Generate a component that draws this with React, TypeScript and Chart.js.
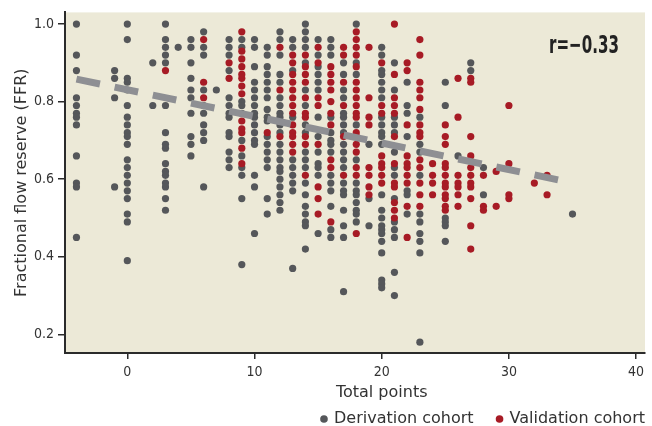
import { useEffect, useRef } from "react";
import { Chart, registerables } from "chart.js";

Chart.register(...registerables);

// ---------- data ----------
const xTicks = [0, 10, 20, 30, 40];
const yTicks = [0.2, 0.4, 0.6, 0.8, 1.0];

// Derivation cohort: [total points, FFR values in that column]
const derivationCols: [number, number[]][] = [
  [-4, [1.0, 0.92, 0.88, 0.81, 0.79, 0.77, 0.76, 0.74, 0.66, 0.59, 0.58, 0.45]],
  [-1, [0.88, 0.86, 0.81, 0.58]],
  [0, [1.0, 0.96, 0.86, 0.85, 0.83, 0.79, 0.76, 0.74, 0.72, 0.71, 0.69, 0.65, 0.63, 0.61, 0.59, 0.57, 0.55, 0.51, 0.49, 0.39]],
  [2, [0.9, 0.79]],
  [3, [1.0, 0.96, 0.94, 0.92, 0.9, 0.79, 0.72, 0.69, 0.68, 0.64, 0.62, 0.61, 0.59, 0.58, 0.55, 0.52]],
  [4, [0.94]],
  [5, [0.96, 0.94, 0.9, 0.86, 0.83, 0.81, 0.77, 0.71, 0.69, 0.66]],
  [6, [0.98, 0.94, 0.92, 0.83, 0.79, 0.77, 0.74, 0.72, 0.7, 0.58]],
  [7, [0.83]],
  [8, [0.96, 0.94, 0.92, 0.88, 0.81, 0.79, 0.77, 0.76, 0.72, 0.71, 0.67, 0.65, 0.63]],
  [9, [0.96, 0.94, 0.8, 0.79, 0.77, 0.7, 0.66, 0.63, 0.61, 0.55, 0.38]],
  [10, [0.96, 0.94, 0.89, 0.85, 0.83, 0.81, 0.79, 0.77, 0.76, 0.74, 0.72, 0.7, 0.69, 0.61, 0.58, 0.46]],
  [11, [0.94, 0.92, 0.89, 0.87, 0.85, 0.83, 0.81, 0.78, 0.76, 0.75, 0.71, 0.69, 0.67, 0.65, 0.63, 0.55, 0.51]],
  [12, [0.98, 0.96, 0.92, 0.87, 0.85, 0.81, 0.79, 0.77, 0.76, 0.74, 0.72, 0.69, 0.67, 0.65, 0.63, 0.62, 0.6, 0.58, 0.56, 0.54, 0.52]],
  [13, [0.96, 0.94, 0.88, 0.76, 0.65, 0.63, 0.61, 0.59, 0.57, 0.37]],
  [14, [1.0, 0.98, 0.96, 0.94, 0.9, 0.83, 0.79, 0.74, 0.72, 0.67, 0.65, 0.63, 0.59, 0.56, 0.53, 0.51, 0.49, 0.48, 0.42]],
  [15, [0.96, 0.92, 0.89, 0.87, 0.85, 0.83, 0.76, 0.71, 0.67, 0.64, 0.63, 0.61, 0.46]],
  [16, [0.96, 0.94, 0.92, 0.76, 0.72, 0.7, 0.69, 0.67, 0.61, 0.59, 0.57, 0.53, 0.47, 0.45]],
  [17, [0.9, 0.87, 0.83, 0.81, 0.77, 0.76, 0.74, 0.72, 0.69, 0.67, 0.65, 0.63, 0.59, 0.57, 0.56, 0.52, 0.48, 0.45, 0.31]],
  [18, [1.0, 0.9, 0.87, 0.74, 0.65, 0.59, 0.57, 0.56, 0.54, 0.52, 0.51, 0.49]],
  [19, [0.69, 0.55, 0.48]],
  [20, [0.94, 0.92, 0.88, 0.87, 0.85, 0.83, 0.81, 0.76, 0.74, 0.72, 0.71, 0.69, 0.56, 0.52, 0.5, 0.48, 0.47, 0.46, 0.44, 0.41, 0.34, 0.33, 0.32]],
  [21, [0.9, 0.83, 0.76, 0.74, 0.72, 0.67, 0.63, 0.61, 0.55, 0.49, 0.47, 0.45, 0.36, 0.3]],
  [22, [0.85, 0.79, 0.77, 0.71, 0.57, 0.56, 0.51]],
  [23, [0.76, 0.69, 0.67, 0.61, 0.51, 0.49, 0.46, 0.44, 0.41, 0.18]],
  [25, [0.85, 0.79, 0.5, 0.49, 0.48, 0.44]],
  [26, [0.66]],
  [27, [0.9, 0.88]],
  [28, [0.63, 0.56]],
  [35, [0.51]],
];

// Validation cohort: [total points, FFR values in that column]
const validationCols: [number, number[]][] = [
  [3, [0.88]],
  [6, [0.96, 0.85, 0.81]],
  [8, [0.9, 0.86]],
  [9, [0.98, 0.93, 0.91, 0.89, 0.87, 0.86, 0.84, 0.82, 0.75, 0.73, 0.72, 0.68, 0.64]],
  [11, [0.72]],
  [12, [0.94, 0.83, 0.71]],
  [13, [0.92, 0.9, 0.87, 0.85, 0.83, 0.81, 0.79, 0.77, 0.74, 0.72, 0.71, 0.69, 0.67]],
  [14, [0.92, 0.89, 0.87, 0.85, 0.81, 0.77, 0.76, 0.71, 0.69, 0.61]],
  [15, [0.94, 0.9, 0.81, 0.79, 0.69, 0.58, 0.55, 0.51]],
  [16, [0.89, 0.87, 0.85, 0.83, 0.8, 0.77, 0.74, 0.65, 0.63, 0.49]],
  [17, [0.94, 0.92, 0.85, 0.79, 0.71, 0.61]],
  [18, [0.98, 0.96, 0.94, 0.92, 0.89, 0.85, 0.83, 0.81, 0.79, 0.77, 0.76, 0.72, 0.71, 0.69, 0.67, 0.63, 0.61, 0.46]],
  [19, [0.94, 0.81, 0.76, 0.74, 0.63, 0.61, 0.58, 0.56]],
  [20, [0.9, 0.79, 0.77, 0.66, 0.64, 0.63, 0.61, 0.59]],
  [21, [1.0, 0.87, 0.81, 0.79, 0.77, 0.71, 0.64, 0.59, 0.58, 0.54, 0.52, 0.5]],
  [22, [0.9, 0.88, 0.74, 0.66, 0.64, 0.63, 0.61, 0.59, 0.53, 0.45]],
  [23, [0.96, 0.92, 0.85, 0.83, 0.81, 0.78, 0.74, 0.72, 0.71, 0.65, 0.63, 0.59, 0.56, 0.53]],
  [24, [0.64, 0.61, 0.59, 0.56]],
  [25, [0.74, 0.71, 0.69, 0.64, 0.63, 0.61, 0.59, 0.58, 0.56, 0.55, 0.53, 0.52]],
  [26, [0.86, 0.76, 0.61, 0.59, 0.58, 0.56, 0.53]],
  [27, [0.86, 0.85, 0.71, 0.66, 0.63, 0.61, 0.59, 0.58, 0.55, 0.48, 0.42]],
  [28, [0.61, 0.53, 0.52]],
  [29, [0.62, 0.53]],
  [30, [0.79, 0.64, 0.56, 0.55]],
  [32, [0.59]],
  [33, [0.61, 0.56]],
];

// Regression line end points
const trendX = [-4, 34.2];
const trendY = [0.858, 0.596];

const rLabel = "r=\u22120.33";
const xTitle = "Total points";
const yTitle = "Fractional flow reserve (FFR)";

// ---------- styles ----------
const GREY = "#55575a";
const RED = "#a71b25";
const BG = "#ece9d7";
const AXIS = "#2b2b2b";
const TEXT = "#333333";
const SANS = '"DejaVu Sans", sans-serif';

const flatten = (cols: [number, number[]][]) =>
  cols.flatMap(([x, ys]) => ys.map((y) => ({ x, y })));

export default function App() {
  const ref = useRef<HTMLCanvasElement | null>(null);

  useEffect(() => {
    if (!ref.current) return;

    const bgPlugin = {
      id: "plotBg",
      beforeDraw(chart: any) {
        const { ctx, chartArea } = chart;
        ctx.save();
        ctx.fillStyle = BG;
        ctx.fillRect(chartArea.left, chartArea.top, chartArea.right - chartArea.left, chartArea.bottom - chartArea.top);
        ctx.restore();
      },
    };

    const legendPad = 24;
    const legendMove = {
      id: "legendMove",
      afterLayout(chart: any) {
        const lg = chart.legend;
        if (!lg) return;
        const dx = 645 + legendPad - lg.right;
        const dy = 419 - legendPad - 8 - lg.top;
        lg.left += dx;
        lg.right += dx;
        lg.top += dy;
        lg.bottom += dy;
      },
    };

    const textPlugin = {
      id: "texts",
      afterDraw(chart: any) {
        const { ctx } = chart;
        const xs = chart.scales.x;
        ctx.save();
        ctx.fillStyle = "#222";
        ctx.font = `bold condensed 25px ${SANS}`;
        ctx.textAlign = "left";
        ctx.textBaseline = "alphabetic";
        const w = ctx.measureText(rLabel).width;
        const target = 70;
        ctx.translate(549, 53);
        if (w > target) ctx.scale(target / w, 1);
        ctx.fillText(rLabel, 0, 0);
        ctx.restore();

        ctx.save();
        ctx.fillStyle = TEXT;
        ctx.font = `16px ${SANS}`;
        ctx.textAlign = "center";
        ctx.textBaseline = "alphabetic";
        ctx.fillText(xTitle, xs.getPixelForValue(20), 397);
        ctx.restore();
      },
    };

    const tickFont = { family: SANS, size: 14, weight: "condensed" as any };

    const chart = new Chart(ref.current, {
      type: "scatter",
      data: {
        datasets: [
          {
            label: "Derivation cohort",
            data: flatten(derivationCols),
            backgroundColor: GREY,
            borderColor: GREY,
            borderWidth: 0,
            pointRadius: 3.6,
            pointStyle: "circle",
            order: 2,
          },
          {
            label: "Validation cohort",
            data: flatten(validationCols),
            backgroundColor: RED,
            borderColor: RED,
            borderWidth: 0,
            pointRadius: 3.6,
            pointStyle: "circle",
            order: 1,
          },
          {
            type: "line",
            label: "trend",
            data: trendX.map((x, i) => ({ x, y: trendY[i] })),
            borderColor: "#8e8f93",
            borderWidth: 7,
            borderDash: [24, 15],
            borderCapStyle: "butt",
            pointRadius: 0,
            fill: false,
            order: 0,
          } as any,
        ],
      },
      options: {
        animation: false,
        responsive: true,
        maintainAspectRatio: false,
        layout: { padding: { top: 12, right: 7, left: 0, bottom: 0 } },
        plugins: {
          tooltip: { enabled: false },
          legend: {
            position: "bottom",
            align: "end",
            labels: {
              usePointStyle: true,
              pointStyle: "circle",
              boxWidth: 4,
              boxHeight: 5.4,
              padding: legendPad,
              color: TEXT,
              font: { family: SANS, size: 16 },
              filter: (item: any) => item.datasetIndex < 2,
              sort: (a: any, b: any) => a.datasetIndex - b.datasetIndex,
            },
          },
        },
        scales: {
          x: {
            type: "linear",
            min: -4.9,
            max: 40.7,
            afterBuildTicks: (s: any) => {
              s.ticks = xTicks.map((v) => ({ value: v }));
            },
            afterFit: (s: any) => {
              const lh = s.chart.legend ? s.chart.legend.height : 0;
              s.height = Math.max(0, 426 - 353 - lh);
            },
            ticks: {
              color: TEXT,
              font: tickFont,
              padding: 5,
              callback: (v: any) => String(v),
            },
            grid: { display: true, drawOnChartArea: false, drawTicks: true, tickLength: 6, color: AXIS, lineWidth: 1.5 },
            border: { display: true, color: AXIS, width: 2 },
          },
          y: {
            type: "linear",
            min: 0.152,
            max: 1.03,
            afterBuildTicks: (s: any) => {
              s.ticks = yTicks.map((v) => ({ value: v }));
            },
            afterFit: (s: any) => {
              s.width = 65;
            },
            ticks: {
              color: TEXT,
              font: tickFont,
              padding: 4,
              callback: (v: any) => Number(v).toFixed(1),
            },
            grid: { display: true, drawOnChartArea: false, drawTicks: true, tickLength: 7, color: AXIS, lineWidth: 1.5 },
            border: { display: true, color: AXIS, width: 2 },
            title: {
              display: true,
              text: yTitle,
              color: TEXT,
              font: { family: SANS, size: 16 },
              padding: { top: 12, bottom: 0 },
            },
          },
        },
      },
      plugins: [bgPlugin, legendMove, textPlugin],
    });

    return () => chart.destroy();
  }, []);

  return (
    <div style={{ position: "fixed", left: 0, top: 0, width: 652, height: 426, background: "#fff" }}>
      <canvas ref={ref} />
    </div>
  );
}
